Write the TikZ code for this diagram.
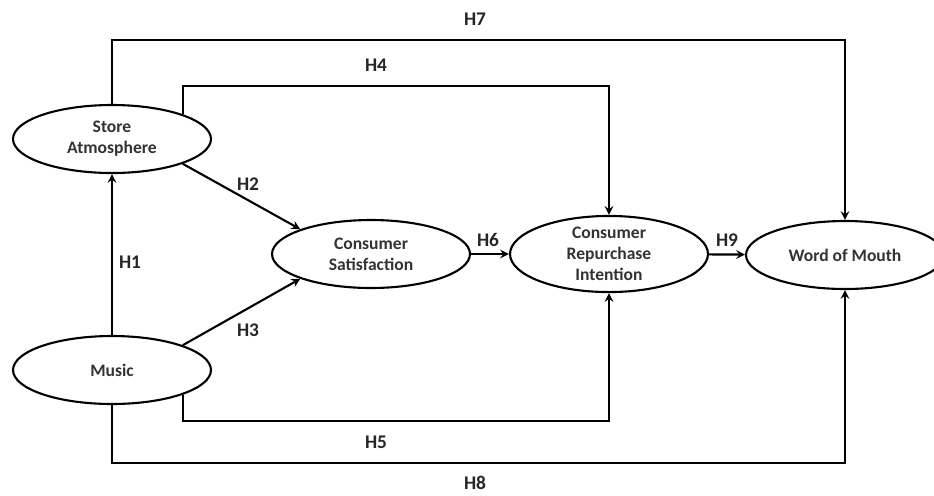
\documentclass[tikz,border=0pt]{standalone}
\usepackage{fontspec}
\setmainfont{Carlito}
\usetikzlibrary{shapes.geometric,arrows,positioning}
\tikzstyle{construct} = [ellipse, draw, line width=1.2pt, minimum width=3.96cm, minimum height=1.36cm, inner sep=0pt, align=center, font=\fontsize{10}{12}\selectfont\bfseries, text=black!80]
\tikzstyle{hyp} = [font=\fontsize{11}{13}\selectfont\bfseries, text=black!85, inner sep=1pt]
\tikzstyle{arrow} = [line width=1.2pt,->,>=stealth]
\tikzstyle{link} = [line width=1.2pt]

\begin{document}
\begin{tikzpicture}[x=0.02cm,y=-0.02cm]
\useasboundingbox (0,0) rectangle (934,495);

\node (sa) [construct] at (112,139) {Store\\Atmosphere};
\node (music) [construct] at (112,370) {Music};
\node (cs) [construct] at (371,254) {Consumer\\Satisfaction};
\node (cri) [construct] at (609,254) {Consumer\\Repurchase\\Intention};
\node (wom) [construct] at (845,255) {Word of Mouth};

% levels of the bent paths
\coordinate (top7) at (0,40);
\coordinate (top4) at (0,86);
\coordinate (bot5) at (0,421);
\coordinate (bot8) at (0,463);

%arrows
\draw [arrow] (music) -- (sa);
\draw [arrow] (sa.south east) -- (cs.north west);
\draw [arrow] (music.north east) -- (cs.south west);
\draw [arrow] (cs) -- (cri);
\draw [arrow] (cri) -- (wom);
\draw [arrow] (sa.north) -- (sa.north |- top7) -| (wom.north);
\draw [arrow] (sa.north east) -- (sa.north east |- top4) -| (cri.north);
\draw [arrow] (music.south east) -- (music.south east |- bot5) -| (cri.south);
\draw [arrow] (music.south) -- (music.south |- bot8) -| (wom.south);

% labels
\node (h1) [hyp] at (130,262) {H1};
\node (h2) [hyp] at (248,184) {H2};
\node (h3) [hyp] at (248,330) {H3};
\node (h4) [hyp] at (376,65) {H4};
\node (h5) [hyp] at (376,442) {H5};
\node (h6) [hyp] at (488,240) {H6};
\node (h7) [hyp] at (475,19) {H7};
\node (h8) [hyp] at (475,483) {H8};
\node (h9) [hyp] at (727,240) {H9};
\end{tikzpicture}
\end{document}
